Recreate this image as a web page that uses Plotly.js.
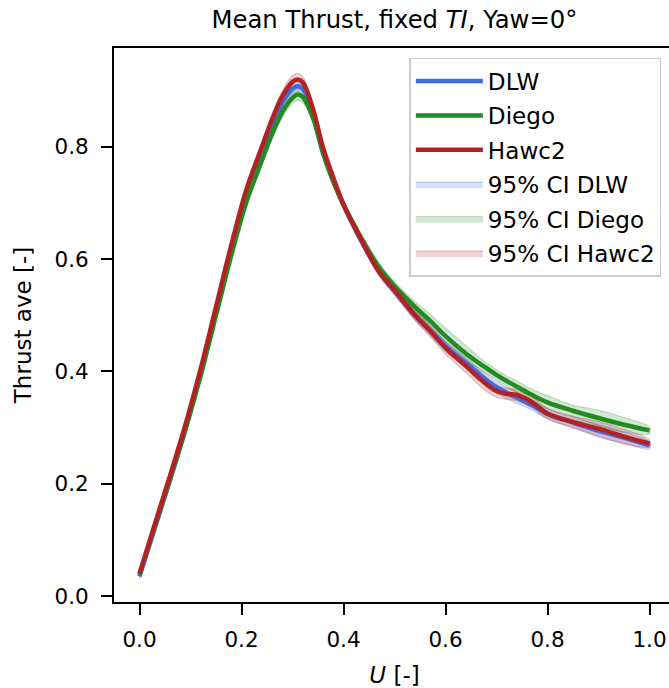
<!DOCTYPE html>
<html>
<head>
<meta charset="utf-8">
<script src="https://cdn.plot.ly/plotly-3.0.1.min.js"></script>
<style>
html,body{margin:0;padding:0;overflow:hidden;background:#fff;}
#chart{width:680px;height:688px;}
</style>
</head>
<body>
<div id="chart"></div>
<script>
// ---- data ----
const U = [0,0.03,0.06,0.09,0.12,0.15,0.18,0.21,0.24,0.26,0.28,0.30,0.31,0.32,0.34,0.36,0.38,0.40,0.43,0.47,0.50,0.54,0.57,0.60,0.64,0.67,0.70,0.72,0.74,0.77,0.80,0.85,0.90,0.95,1.0];

const dlwMean = [0.035,0.121,0.207,0.297,0.396,0.505,0.615,0.715,0.790,0.839,0.879,0.904,0.908,0.904,0.862,0.792,0.740,0.697,0.641,0.578,0.543,0.500,0.473,0.445,0.415,0.392,0.372,0.362,0.353,0.340,0.324,0.309,0.294,0.282,0.268];
const dlwLo   = [0.030,0.115,0.200,0.290,0.389,0.498,0.608,0.708,0.782,0.831,0.870,0.895,0.899,0.895,0.854,0.785,0.733,0.690,0.634,0.571,0.536,0.492,0.464,0.436,0.405,0.382,0.362,0.352,0.343,0.331,0.315,0.300,0.283,0.272,0.262];
const dlwHi   = [0.040,0.127,0.214,0.304,0.403,0.512,0.622,0.722,0.798,0.847,0.888,0.913,0.917,0.913,0.870,0.799,0.747,0.704,0.648,0.585,0.550,0.508,0.482,0.454,0.425,0.402,0.382,0.372,0.363,0.349,0.333,0.318,0.305,0.292,0.274];

const diegoMean = [0.038,0.124,0.209,0.297,0.393,0.500,0.607,0.703,0.776,0.823,0.862,0.887,0.893,0.889,0.852,0.788,0.738,0.697,0.645,0.585,0.552,0.515,0.490,0.463,0.432,0.412,0.394,0.383,0.373,0.358,0.345,0.330,0.317,0.305,0.295];
const diegoLo   = [0.033,0.117,0.202,0.290,0.386,0.492,0.599,0.695,0.767,0.814,0.852,0.877,0.883,0.879,0.844,0.780,0.730,0.689,0.637,0.577,0.544,0.506,0.478,0.449,0.419,0.402,0.385,0.374,0.363,0.348,0.334,0.320,0.303,0.292,0.289];
const diegoHi   = [0.043,0.131,0.216,0.304,0.400,0.508,0.615,0.711,0.785,0.832,0.872,0.897,0.903,0.899,0.860,0.796,0.746,0.705,0.653,0.593,0.560,0.524,0.502,0.477,0.446,0.422,0.403,0.392,0.383,0.368,0.357,0.340,0.331,0.318,0.301];

const hawcMean = [0.040,0.128,0.215,0.305,0.405,0.515,0.625,0.725,0.800,0.849,0.890,0.916,0.920,0.915,0.868,0.798,0.745,0.697,0.643,0.577,0.545,0.500,0.472,0.442,0.410,0.385,0.365,0.360,0.358,0.345,0.325,0.310,0.298,0.284,0.272];
const hawcLo   = [0.034,0.121,0.208,0.297,0.397,0.507,0.617,0.717,0.792,0.840,0.880,0.905,0.909,0.905,0.859,0.790,0.738,0.691,0.636,0.570,0.537,0.491,0.462,0.431,0.398,0.372,0.354,0.350,0.348,0.335,0.316,0.300,0.285,0.271,0.266];
const hawcHi   = [0.046,0.135,0.222,0.313,0.413,0.523,0.633,0.733,0.808,0.858,0.900,0.927,0.931,0.925,0.877,0.806,0.752,0.703,0.650,0.584,0.553,0.509,0.482,0.453,0.422,0.398,0.376,0.370,0.368,0.355,0.334,0.320,0.311,0.297,0.278];

const seriesNames = ['DLW', 'Diego', 'Hawc2'];
const ciNames = ['95% CI DLW', '95% CI Diego', '95% CI Hawc2'];
const xTicks = [0, 0.2, 0.4, 0.6, 0.8, 1.0];
const yTicks = [0, 0.2, 0.4, 0.6, 0.8];

// ---- styling ----
const FONT = 'DejaVu Sans, Verdana, sans-serif';
const lineColors = ['#4169E1', '#228B22', '#B22222'];
const fillColors = ['rgba(65,105,225,0.2)', 'rgba(34,139,34,0.2)', 'rgba(178,34,34,0.2)'];
const edgeColors = ['rgba(65,105,225,0.25)', 'rgba(34,139,34,0.25)', 'rgba(178,34,34,0.25)'];

const means = [dlwMean, diegoMean, hawcMean];
const los = [dlwLo, diegoLo, hawcLo];
const his = [dlwHi, diegoHi, hawcHi];

const traces = [];
const Urev = U.slice().reverse();
for (let i = 0; i < 3; i++) {
  traces.push({
    type: 'scatter', mode: 'lines',
    x: U.concat(Urev),
    y: his[i].concat(los[i].slice().reverse()),
    fill: 'toself', fillcolor: fillColors[i],
    line: {color: edgeColors[i], width: 1.2, shape: 'spline', smoothing: 1},
    name: ciNames[i], legendgroup: 'ci' + i, legendrank: 4 + i,
    hoverinfo: 'skip'
  });
}
for (let i = 0; i < 3; i++) {
  traces.push({
    type: 'scatter', mode: 'lines',
    x: U, y: means[i],
    line: {color: lineColors[i], width: 4.5, shape: 'spline', smoothing: 1},
    name: seriesNames[i], legendgroup: 'm' + i, legendrank: 1 + i
  });
}

const layout = {
  width: 680, height: 688,
  margin: {l: 114, r: 4.5, t: 48, b: 85.7, pad: 0},
  paper_bgcolor: '#fff', plot_bgcolor: '#fff',
  font: {family: FONT, color: '#000', size: 21},
  title: {
    text: 'Mean Thrust, fixed <i>TI</i>, Yaw=0°',
    font: {family: FONT, size: 24.3, color: '#000'},
    x: 0.5, xref: 'paper', xanchor: 'center',
    y: 1, yref: 'paper', yanchor: 'bottom', pad: {b: 20}
  },
  xaxis: {
    range: [-0.05, 1.05], tickvals: xTicks, tickformat: '.1f',
    showgrid: false, zeroline: false,
    showline: true, linecolor: '#000', linewidth: 2, mirror: true,
    ticks: 'outside', ticklen: 11, tickwidth: 2, tickcolor: '#000',
    tickfont: {family: FONT, size: 21.5, color: '#000'},
    ticklabelstandoff: 6,
    title: {text: '<i>U</i> [-]', font: {family: FONT, size: 23, color: '#000'}, standoff: 18},
    automargin: false
  },
  yaxis: {
    range: [-0.0106, 0.976], tickvals: yTicks, tickformat: '.1f',
    showgrid: false, zeroline: false,
    showline: true, linecolor: '#000', linewidth: 2, mirror: true,
    ticks: 'outside', ticklen: 11, tickwidth: 2, tickcolor: '#000',
    tickfont: {family: FONT, size: 21.5, color: '#000'},
    ticklabelstandoff: 8,
    title: {text: 'Thrust ave [-]', font: {family: FONT, size: 23, color: '#000'}, standoff: 16},
    automargin: false
  },
  showlegend: true,
  legend: {
    x: 0.5265, y: 0.982, xref: 'paper', yref: 'paper',
    xanchor: 'left', yanchor: 'top',
    bgcolor: 'rgba(255,255,255,0.85)', bordercolor: '#cccccc', borderwidth: 1.5,
    font: {family: FONT, size: 23.1, color: '#000'},
    traceorder: 'grouped', tracegroupgap: 1.4,
    itemwidth: 67
  }
};

Plotly.newPlot('chart', traces, layout, {displayModeBar: false, staticPlot: true});
</script>
</body>
</html>
